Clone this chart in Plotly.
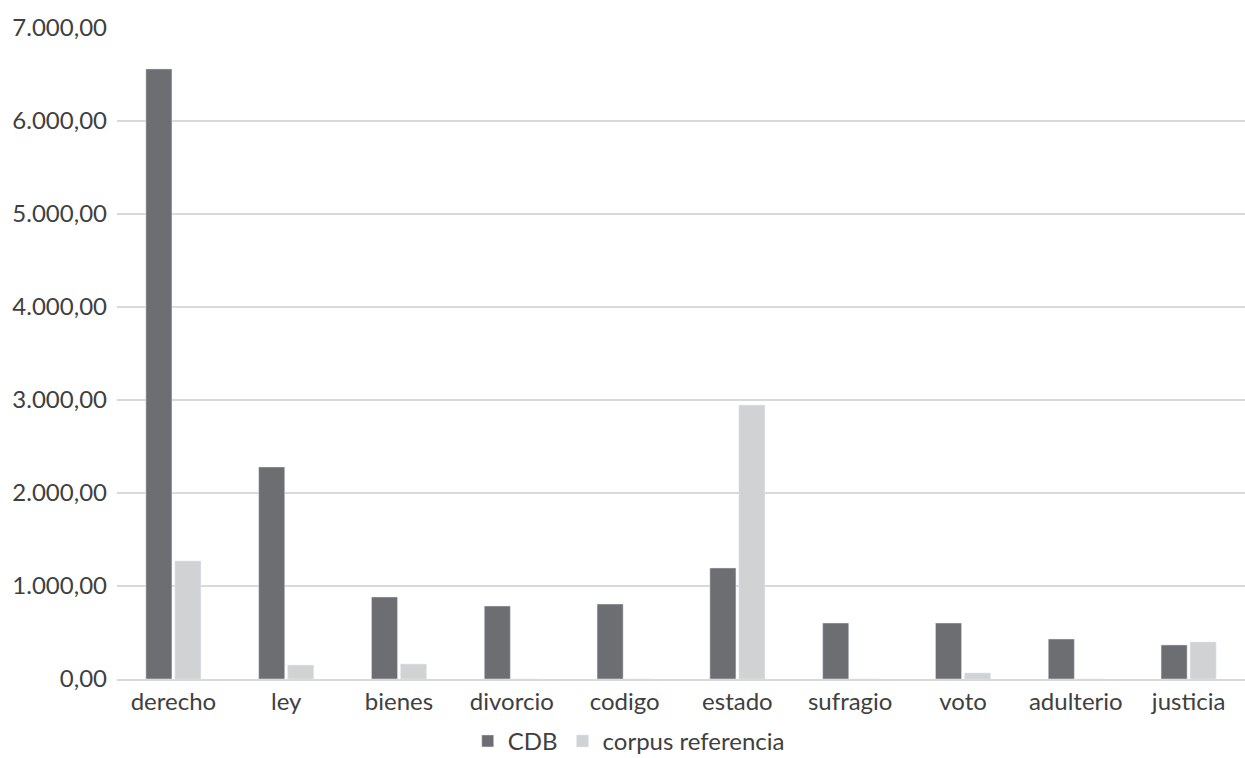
import plotly.graph_objects as go

categories = ["derecho", "ley", "bienes", "divorcio", "codigo", "estado", "sufragio", "voto", "adulterio", "justicia"]
cdb = [6560, 2280, 882, 785, 806, 1194, 602, 602, 430, 366]
corpus = [1269, 150, 161, 0, 0, 2946, 0, 65, 0, 398]
y_ticks = [0, 1000, 2000, 3000, 4000, 5000, 6000, 7000]

fig = go.Figure()
fig.add_trace(go.Bar(name="CDB", x=categories, y=cdb, marker_color="#6d6e71"))
fig.add_trace(go.Bar(name="corpus referencia", x=categories, y=corpus, marker_color="#d1d2d4"))

font = "Lato, 'Open Sans', sans-serif"
fs = 24
fig.update_layout(
    width=1245, height=758,
    margin=dict(l=117, r=0, t=28, b=79),
    paper_bgcolor="white", plot_bgcolor="white",
    separators=",.",
    barmode="group", bargap=0.486, bargroupgap=0.1,
    font=dict(family=font, size=fs, color="#404040"),
    legend=dict(orientation="h", x=0.505, xref="container", xanchor="center",
                y=0.022, yref="container", yanchor="middle",
                font=dict(size=fs, color="#404040"), itemwidth=30, traceorder="normal"),
    xaxis=dict(showgrid=False, showline=True, linecolor="#d9d9d9", linewidth=2,
               ticks="", automargin=False, tickfont=dict(size=fs, color="#404040")),
    yaxis=dict(range=[0, 7000], tickvals=y_ticks, tickformat=",.2f", automargin=False,
               ticklabelstandoff=9,
               showgrid=True, gridcolor="#d9d9d9", gridwidth=1.5, zeroline=False,
               showline=False, ticks="", tickfont=dict(size=fs, color="#404040")),
)
fig.write_html("out.html")
